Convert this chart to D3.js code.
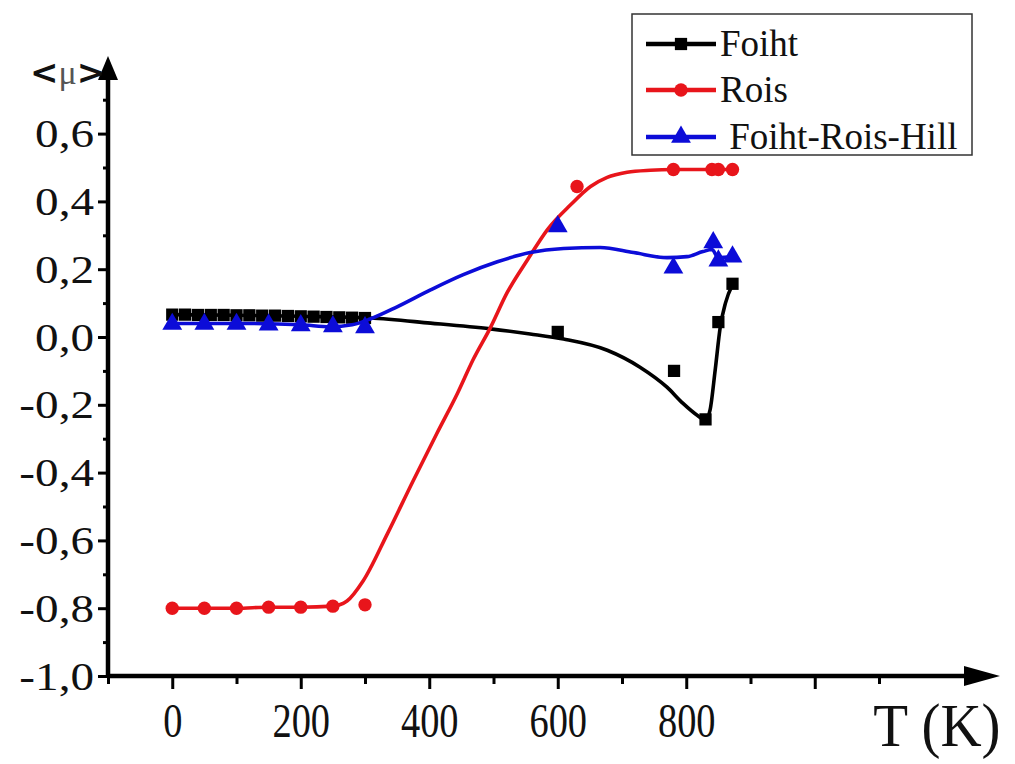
<!DOCTYPE html>
<html>
<head>
<meta charset="utf-8">
<script src="https://cdn.jsdelivr.net/npm/d3@7/dist/d3.min.js"></script>
<style>
  html, body { margin: 0; padding: 0; background: #fff; }
  svg { display: block; }
  text { font-family: "Liberation Serif", "Times New Roman", serif; fill: #111; }
</style>
</head>
<body>
<svg id="chart" width="1015" height="764"></svg>
<script>
// Temperature (K) of the measured points
const foihtT   = [0, 20, 40, 60, 80, 100, 120, 140, 160, 180, 200, 220, 240, 260, 280, 300, 600, 781, 830, 850, 872];
const foihtMu  = [0.066, 0.066, 0.065, 0.065, 0.065, 0.064, 0.064, 0.063, 0.063, 0.062, 0.061, 0.060, 0.059, 0.058, 0.057, 0.056, 0.015, -0.100, -0.243, 0.044, 0.157];
const roisT    = [0, 50, 100, 150, 200, 250, 300, 630, 780, 840, 850, 872];
const roisMu   = [-0.800, -0.800, -0.800, -0.797, -0.797, -0.794, -0.790, 0.444, 0.494, 0.494, 0.494, 0.494];
const frhT     = [0, 50, 100, 150, 200, 250, 300, 600, 780, 842, 850, 872];
const frhMu    = [0.038, 0.038, 0.038, 0.036, 0.034, 0.031, 0.028, 0.326, 0.204, 0.279, 0.225, 0.237];

// Smoothed fit curves drawn through each series
const foihtFitT  = [0, 100, 200, 308, 402, 495, 557, 609, 677, 728, 770, 795, 817, 830, 837, 845, 853, 861, 872];
const foihtFitMu = [0.066, 0.064, 0.061, 0.056, 0.041, 0.024, 0.009, -0.006, -0.039, -0.089, -0.148, -0.196, -0.231, -0.246, -0.216, -0.098, 0.030, 0.100, 0.155];
const roisFitT   = [0, 50, 100, 150, 200, 250, 272, 297, 335, 375, 412, 444, 468, 495, 521, 553, 584, 620, 651, 677, 708, 744, 780, 872];
const roisFitMu  = [-0.800, -0.800, -0.800, -0.797, -0.797, -0.794, -0.779, -0.720, -0.580, -0.424, -0.284, -0.166, -0.068, 0.027, 0.130, 0.228, 0.317, 0.390, 0.444, 0.471, 0.486, 0.492, 0.494, 0.494];
const frhFitT    = [0, 100, 200, 246, 280, 308, 350, 402, 453, 506, 557, 609, 666, 718, 770, 801, 826, 840, 850, 872];
const frhFitMu   = [0.040, 0.040, 0.036, 0.030, 0.036, 0.053, 0.089, 0.139, 0.184, 0.222, 0.249, 0.261, 0.264, 0.249, 0.234, 0.237, 0.252, 0.258, 0.234, 0.237];

// Axis ticks and labels
const tempMajor  = [0, 200, 400, 600, 800, 1000];
const tempLabels = ["0", "200", "400", "600", "800", ""];
const tempMinor  = [-100, 100, 300, 500, 700, 900, 1100];
const muMajor    = [-1.0, -0.8, -0.6, -0.4, -0.2, 0.0, 0.2, 0.4, 0.6];
const muLabels   = ["-1,0", "-0,8", "-0,6", "-0,4", "-0,2", "0,0", "0,2", "0,4", "0,6"];
const muMinor    = [-0.9, -0.7, -0.5, -0.3, -0.1, 0.1, 0.3, 0.5, 0.7];

const seriesNames  = ["Foiht", "Rois", " Foiht-Rois-Hill"];
const seriesColors = ["#000000", "#e8151b", "#0c0cd8"];
const seriesSymbols = [d3.symbolSquare, d3.symbolCircle, d3.symbolTriangle];
const symbolSizes = [150, 140, 170];

const svg = d3.select("#chart");

const x = d3.scaleLinear().domain([-100, 1100]).range([108, 879]);
const y = d3.scaleLinear().domain([-1, 0.7]).range([676, 99.7]);

const line = d3.line().x(d => x(d[0])).y(d => y(d[1])).curve(d3.curveMonotoneX);

const series = [
  { fit: d3.zip(foihtFitT, foihtFitMu), pts: d3.zip(foihtT, foihtMu) },
  { fit: d3.zip(roisFitT, roisFitMu),   pts: d3.zip(roisT, roisMu) },
  { fit: d3.zip(frhFitT, frhFitMu),     pts: d3.zip(frhT, frhMu) }
];

// Curves and markers
const plot = svg.append("g");
series.forEach((s, i) => {
  plot.append("path")
    .attr("d", line(s.fit))
    .attr("fill", "none")
    .attr("stroke", seriesColors[i])
    .attr("stroke-width", 3.6)
    .attr("stroke-linejoin", "round");
  plot.selectAll(null).data(s.pts).enter().append("path")
    .attr("d", d3.symbol().type(seriesSymbols[i]).size(symbolSizes[i]))
    .attr("transform", d => `translate(${x(d[0])},${y(d[1])})`)
    .attr("fill", seriesColors[i]);
});

// Axes
const axisG = svg.append("g");
const xAxisMinor = d3.axisBottom(x).tickValues(tempMinor).tickSize(8).tickFormat("");
const xAxisMajor = d3.axisBottom(x).tickValues(tempMajor).tickSize(13).tickPadding(14)
  .tickFormat((d, i) => tempLabels[i]);
const yAxisMinor = d3.axisLeft(y).tickValues(muMinor).tickSize(5).tickFormat("");
const yAxisMajor = d3.axisLeft(y).tickValues(muMajor).tickSize(10).tickPadding(4)
  .tickFormat((d, i) => muLabels[i]);

const gxm = axisG.append("g").attr("transform", `translate(0,${y(-1)})`).call(xAxisMinor);
const gxM = axisG.append("g").attr("transform", `translate(0,${y(-1)})`).call(xAxisMajor);
const gym = axisG.append("g").attr("transform", `translate(${x(-100)},0)`).call(yAxisMinor);
const gyM = axisG.append("g").attr("transform", `translate(${x(-100)},0)`).call(yAxisMajor);
[gxm, gxM, gym, gyM].forEach(g => {
  g.select(".domain").remove();
  g.selectAll(".tick line").attr("stroke", "#000").attr("stroke-width", 3);
});
gxM.selectAll(".tick text")
  .attr("font-size", 48).attr("fill", "#111")
  .attr("font-family", "Liberation Serif")
  .style("transform-box", "fill-box").style("transform-origin", "center")
  .style("transform", "scaleX(0.8)");
gyM.selectAll(".tick text")
  .attr("font-size", 41).attr("fill", "#111")
  .attr("font-family", "Liberation Serif")
  .style("transform-box", "fill-box").style("transform-origin", "right center")
  .style("transform", "scaleX(1.15)");

// Axis lines with arrow heads
const x0 = x(-100), y0 = y(-1);
axisG.append("line").attr("x1", x0).attr("x2", 968).attr("y1", y0).attr("y2", y0)
  .attr("stroke", "#000").attr("stroke-width", 4.5);
axisG.append("line").attr("x1", x0).attr("x2", x0).attr("y1", y0 + 2).attr("y2", 74)
  .attr("stroke", "#000").attr("stroke-width", 4.5);
axisG.append("path").attr("d", `M1000,${y0} L964,${y0 - 10} L964,${y0 + 10} Z`).attr("fill", "#000");
axisG.append("path").attr("d", `M${x0},56 L${x0 - 10},80 L${x0 + 10},80 Z`).attr("fill", "#000");

// Axis titles
const muTitle = svg.append("text").attr("x", 30).attr("y", 84).attr("font-size", 34).attr("fill", "#222");
muTitle.append("tspan").attr("font-family", "DejaVu Sans").attr("font-weight", "bold").text("<");
muTitle.append("tspan").attr("font-family", "Liberation Serif").attr("fill", "#555").text("μ");
muTitle.append("tspan").attr("font-family", "DejaVu Sans").attr("font-weight", "bold").text(">");
svg.append("text").attr("x", 937).attr("y", 746).attr("font-size", 62)
  .attr("text-anchor", "middle")
  .style("transform-box", "fill-box").style("transform-origin", "center")
  .style("transform", "scaleX(0.92)")
  .text("T (K)");

// Legend
const legend = svg.append("g");
legend.append("rect").attr("x", 632).attr("y", 14).attr("width", 340).attr("height", 141)
  .attr("fill", "#fff").attr("stroke", "#333").attr("stroke-width", 1.5);
const legendY = [44, 90, 137];
seriesNames.forEach((name, i) => {
  const g = legend.append("g").attr("transform", `translate(0,${legendY[i]})`);
  g.append("line").attr("x1", 646).attr("x2", 716).attr("stroke", seriesColors[i]).attr("stroke-width", 4.5);
  g.append("path").attr("d", d3.symbol().type(seriesSymbols[i]).size(symbolSizes[i]))
    .attr("transform", "translate(681,0)").attr("fill", seriesColors[i]);
  g.append("text").attr("x", 720).attr("y", 12).attr("font-size", 37)
    .attr("xml:space", "preserve").style("white-space", "pre").text(name);
});
</script>
</body>
</html>
